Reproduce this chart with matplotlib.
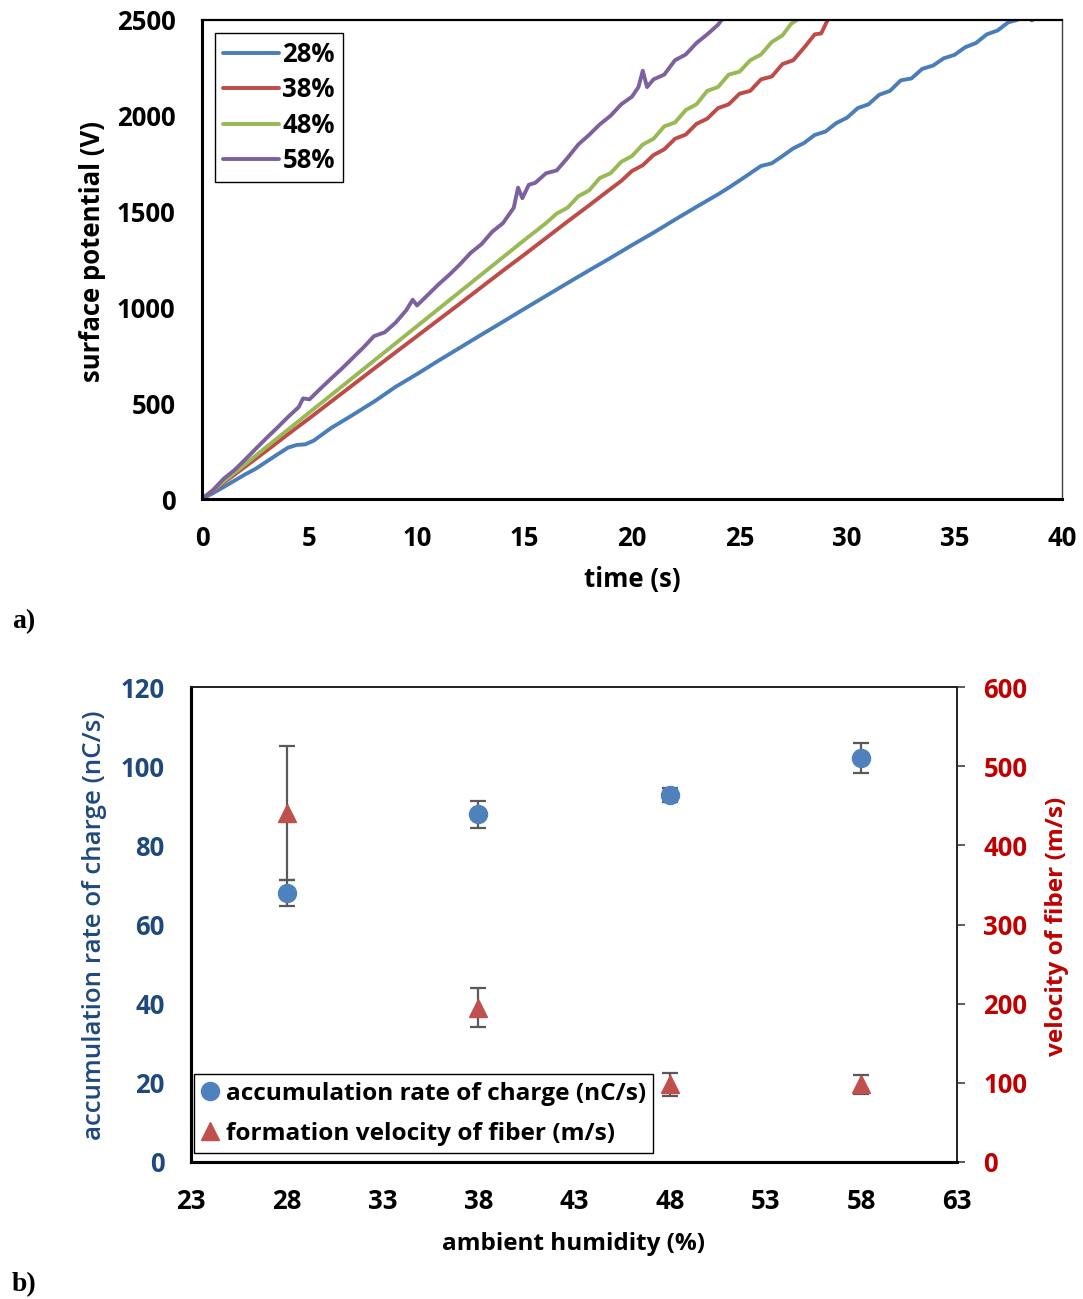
import matplotlib
matplotlib.use("Agg")
import matplotlib.pyplot as plt

plt.rcParams['font.family'] = ['Open Sans', 'DejaVu Sans']

# ---- panel a: surface potential vs time ----
t28 = [0, 0.5, 1.0, 1.5, 2.0, 2.5, 3.0, 3.5, 4.0, 4.4, 4.8, 5.2, 6, 7, 8, 9, 10, 11, 12, 13, 14, 15, 16,
       17, 18, 19, 20, 21, 22, 23, 24, 24.5, 25, 25.5, 26, 26.5, 27, 27.5, 28, 28.5, 29, 29.5, 30, 30.5,
       31, 31.5, 32, 32.5, 33, 33.5, 34, 34.5, 35, 35.5, 36, 36.5, 37, 37.5, 37.9, 38.3, 38.6, 38.9]
v28 = [0, 30, 62, 95, 128, 158, 195, 232, 268, 282, 285, 305, 370, 438, 508, 585, 652, 722, 790, 858, 925,
       993, 1060, 1127, 1193, 1258, 1325, 1390, 1458, 1525, 1590, 1625, 1662, 1700, 1738, 1752, 1790, 1830,
       1858, 1900, 1918, 1962, 1990, 2040, 2060, 2110, 2130, 2185, 2195, 2245, 2262, 2300, 2318, 2358, 2380,
       2425, 2445, 2488, 2500, 2520, 2498, 2520]

t38 = [0, 1, 2, 3, 4, 5, 6, 7, 8, 9, 10, 11, 12, 13, 14, 15, 16, 17, 18, 19, 19.5, 20, 20.5, 21, 21.5,
       22, 22.5, 23, 23.5, 24, 24.5, 25, 25.5, 26, 26.5, 27, 27.5, 28, 28.5, 28.8, 29.1, 29.3]
v38 = [0, 84, 168, 252, 338, 422, 508, 594, 680, 765, 850, 935, 1020, 1106, 1192, 1276, 1362, 1448, 1532,
       1618, 1660, 1712, 1742, 1795, 1825, 1880, 1902, 1958, 1985, 2040, 2060, 2115, 2130, 2190, 2205, 2270,
       2290, 2355, 2425, 2430, 2500, 2540]

t48 = [0, 1, 2, 3, 4, 5, 6, 7, 8, 9, 10, 11, 12, 13, 14, 15, 16, 16.5, 17, 17.5, 18, 18.5, 19, 19.5, 20,
       20.5, 21, 21.5, 22, 22.5, 23, 23.5, 24, 24.5, 25, 25.5, 26, 26.5, 27, 27.4, 27.8]
v48 = [0, 90, 181, 272, 362, 452, 542, 632, 722, 812, 902, 992, 1082, 1172, 1262, 1352, 1440, 1490, 1520,
       1580, 1610, 1675, 1700, 1760, 1790, 1850, 1880, 1945, 1965, 2030, 2060, 2130, 2150, 2215, 2230, 2290,
       2320, 2385, 2420, 2480, 2510]

t58 = [0, 0.5, 1.0, 1.5, 2.0, 2.5, 3.0, 3.5, 4.0, 4.5, 4.7, 5.0, 5.5, 6.0, 6.5, 7.0, 7.5, 8.0, 8.5, 9.0,
       9.5, 9.8, 10, 10.5, 11, 11.5, 12, 12.5, 13, 13.5, 14, 14.5, 14.7, 14.9, 15.2, 15.5, 16, 16.5, 17, 17.5,
       18, 18.5, 19, 19.5, 20, 20.3, 20.5, 20.7, 21, 21.5, 22, 22.5, 23, 23.5, 24, 24.3]
v58 = [0, 45, 105, 150, 205, 262, 318, 372, 428, 480, 525, 520, 575, 628, 680, 735, 790, 850, 870, 920,
       985, 1040, 1010, 1065, 1120, 1170, 1225, 1285, 1330, 1395, 1440, 1520, 1625, 1570, 1640, 1650, 1700,
       1715, 1780, 1850, 1900, 1955, 2000, 2060, 2100, 2150, 2235, 2150, 2190, 2215, 2290, 2320, 2380, 2425,
       2475, 2520]

series_labels = ['28%', '38%', '48%', '58%']
series_colors = ['#4A7EBB', '#BE4B48', '#98B954', '#7D60A0']

time_ticks = [0, 5, 10, 15, 20, 25, 30, 35, 40]
potential_ticks = [0, 500, 1000, 1500, 2000, 2500]

# ---- panel b: rates vs humidity ----
humidity = [28, 38, 48, 58]
charge_rate = [68.0, 87.8, 92.7, 102.1]
charge_err = [3.3, 3.3, 1.8, 3.8]
fiber_velocity = [441, 195, 98, 98]
fiber_err = [85, 25, 15, 12]

humidity_ticks = [23, 28, 33, 38, 43, 48, 53, 58, 63]
rate_ticks = [0, 20, 40, 60, 80, 100, 120]
velocity_ticks = [0, 100, 200, 300, 400, 500, 600]

W, H = 1083, 1299
fig = plt.figure(figsize=(W / 100, H / 100), dpi=100)

FS = 18.5
BLUE_TXT = '#1F497D'
RED_TXT = '#C00000'


def frac_axes(x0, y0, x1, y1):
    return fig.add_axes([x0 / W, 1 - y1 / H, (x1 - x0) / W, (y1 - y0) / H])


# panel a
ax = frac_axes(202, 20, 1062, 499)
for t, v, lab, col in zip([t28, t38, t48, t58], [v28, v38, v48, v58], series_labels, series_colors):
    ax.plot(t, v, color=col, lw=2.8, label=lab, solid_joinstyle='round', solid_capstyle='round')
ax.set_xlim(0, 40)
ax.set_ylim(0, 2500)
ax.set_xticks(time_ticks)
ax.set_yticks(potential_ticks)
ax.tick_params(length=0, labelsize=FS)
ax.tick_params(axis='x', pad=19)
ax.tick_params(axis='y', pad=19)
for lbl in ax.get_xticklabels() + ax.get_yticklabels():
    lbl.set_fontweight('bold')
for s in ['left', 'bottom']:
    ax.spines[s].set_linewidth(2.2)
    ax.spines[s].set_color('black')
ax.spines['top'].set_linewidth(1.6)
ax.spines['top'].set_color('black')
ax.spines['right'].set_linewidth(1.0)
ax.spines['right'].set_color('#404040')
leg = ax.legend(loc='upper left', bbox_to_anchor=((215 - 202) / 860, (499 - 33) / 479),
                borderaxespad=0, fancybox=False, edgecolor='black', framealpha=1,
                prop={'weight': 'bold', 'size': FS}, handlelength=2.2, handletextpad=0.12,
                labelspacing=0.33, borderpad=0.3)
leg.get_frame().set_linewidth(1.0)

fig.text(92 / W, 1 - 252 / H, 'surface potential (V)', rotation=90, ha='center', va='center',
         fontsize=FS, fontweight='bold')
fig.text(632 / W, 1 - 580 / H, 'time (s)', ha='center', va='center', fontsize=FS, fontweight='bold')
fig.text(12 / W, 1 - 622 / H, 'a)', ha='left', va='center', fontsize=20, fontweight='bold',
         family='Liberation Serif')

# panel b
bx = frac_axes(191, 687, 957, 1162)
bxr = bx.twinx()
bx.errorbar(humidity, charge_rate, yerr=charge_err, fmt='none', ecolor='#595959', elinewidth=1.6,
            capsize=6, capthick=1.6)
pts1, = bx.plot(humidity, charge_rate, 'o', ms=13, color='#4F81BD', mec='#4F81BD',
                label='accumulation rate of charge (nC/s)')
bxr.errorbar(humidity, fiber_velocity, yerr=fiber_err, fmt='none', ecolor='#595959', elinewidth=1.6,
             capsize=6, capthick=1.6)
pts2, = bxr.plot(humidity, fiber_velocity, '^', ms=13, color='#C0504D', mec='#C0504D',
                 label='formation velocity of fiber (m/s)')

bx.set_xlim(23, 63)
bx.set_ylim(0, 120)
bxr.set_ylim(0, 600)
bx.set_xticks(humidity_ticks)
bx.set_yticks(rate_ticks)
bxr.set_yticks(velocity_ticks)
bx.tick_params(length=0, labelsize=FS)
bx.tick_params(axis='x', pad=19)
bx.tick_params(axis='y', pad=19, labelcolor=BLUE_TXT)
bxr.tick_params(axis='y', length=6, width=1.2, color='#404040', direction='out', pad=13,
                labelsize=FS, labelcolor=RED_TXT)
for lbl in bx.get_xticklabels() + bx.get_yticklabels() + bxr.get_yticklabels():
    lbl.set_fontweight('bold')
for a in (bx, bxr):
    a.spines['left'].set_linewidth(2.2)
    a.spines['left'].set_color('black')
    a.spines['bottom'].set_linewidth(2.2)
    a.spines['bottom'].set_color('black')
    a.spines['top'].set_linewidth(1.2)
    a.spines['top'].set_color('#202020')
    a.spines['right'].set_linewidth(1.2)
    a.spines['right'].set_color('#202020')

leg2 = bxr.legend(handles=[pts1, pts2], loc='lower left',
                  bbox_to_anchor=((194 - 191) / 766, (1162 - 1153) / 475), borderaxespad=0,
                  fancybox=False, edgecolor='black', framealpha=1,
                  prop={'weight': 'bold', 'size': 17.6}, handlelength=0.7, handletextpad=0.3,
                  labelspacing=0.65, borderpad=0.3, markerscale=1.0)
leg2.get_frame().set_linewidth(1.0)

fig.text(95 / W, 1 - 925 / H, 'accumulation rate of charge (nC/s)', rotation=90, ha='center',
         va='center', fontsize=18.6, fontweight='semibold', color=BLUE_TXT)
fig.text(1057 / W, 1 - 926 / H, 'velocity of fiber (m/s)', rotation=90, ha='center', va='center',
         fontsize=17.6, fontweight='bold', color=RED_TXT)
fig.text(574 / W, 1 - 1244 / H, 'ambient humidity (%)', ha='center', va='center', fontsize=17.5,
         fontweight='bold')
fig.text(12 / W, 1 - 1285 / H, 'b)', ha='left', va='center', fontsize=20, fontweight='bold',
         family='Liberation Serif')

fig.savefig('out.png', dpi=100)
